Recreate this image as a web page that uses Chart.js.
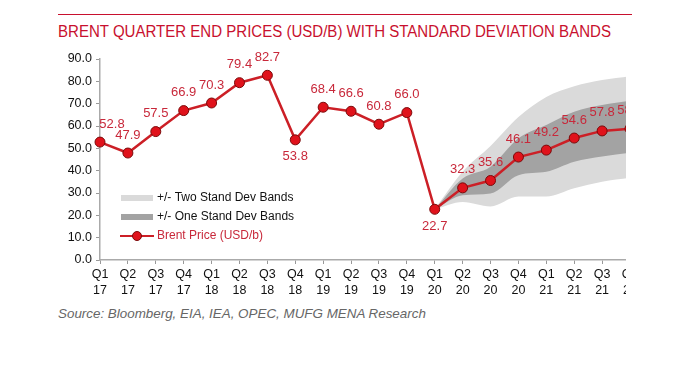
<!DOCTYPE html>
<html>
<head>
<meta charset="utf-8">
<script src="https://cdn.jsdelivr.net/npm/chart.js@4.4.1/dist/chart.umd.min.js"></script>
<style>
  html, body { margin: 0; padding: 0; background: #fff; }
  body { width: 692px; height: 366px; position: relative; overflow: hidden; font-family: "Liberation Sans", Arial, sans-serif; }
  #rule { position: absolute; left: 58px; top: 14px; width: 574px; height: 1px; background: #c8102e; }
  #title { position: absolute; left: 58px; top: 23px; font-size: 16px; color: #c8102e; white-space: nowrap; transform-origin: left top; transform: scaleX(0.94); }
  #wrap { position: absolute; left: 0; top: 40px; width: 626px; height: 260px; overflow: hidden; }
  #src { position: absolute; left: 58px; top: 306px; font-size: 13.4px; font-style: italic; color: #666; white-space: nowrap; }
</style>
</head>
<body>
<div id="rule"></div>
<div id="title">BRENT QUARTER END PRICES (USD/B) WITH STANDARD DEVIATION BANDS</div>
<div id="wrap"><canvas id="c" width="692" height="260"></canvas></div>
<div id="src">Source: Bloomberg, EIA, IEA, OPEC, MUFG MENA Research</div>
<script>
const quarters = ['Q1','Q2','Q3','Q4','Q1','Q2','Q3','Q4','Q1','Q2','Q3','Q4','Q1','Q2','Q3','Q4','Q1','Q2','Q3','Q4'];
const years    = ['17','17','17','17','18','18','18','18','19','19','19','19','20','20','20','20','21','21','21','21'];
const brent    = [52.8, 47.9, 57.5, 66.9, 70.3, 79.4, 82.7, 53.8, 68.4, 66.6, 60.8, 66.0, 22.7, 32.3, 35.6, 46.1, 49.2, 54.6, 57.8, 58.8];
const twoSdHigh = [null,null,null,null,null,null,null,null,null,null,null,null, 22.7, 39.5, 51.0, 64.0, 73.0, 77.8, 80.6, 82.3];
const twoSdLow  = [null,null,null,null,null,null,null,null,null,null,null,null, 22.7, 26.0, 24.0, 28.4, 28.4, 32.1, 35.0, 36.8];
const oneSdHigh = [null,null,null,null,null,null,null,null,null,null,null,null, 22.7, 36.5, 41.8, 54.5, 60.5, 66.4, 69.4, 71.3];
const oneSdLow  = [null,null,null,null,null,null,null,null,null,null,null,null, 22.7, 29.0, 29.8, 38.0, 39.5, 44.0, 46.3, 48.0];
const yTicks = [0, 10, 20, 30, 40, 50, 60, 70, 80, 90];

const RED = '#cc1f26';
const LABEL_RED = '#c8283a';
const LIGHT = '#dadada';
const DARK = '#a3a3a3';
const FONT = '"Liberation Sans", Arial, sans-serif';

const labels = quarters.map((q, i) => [q, years[i]]);

const valueLabels = {
    id: 'valueLabels',
    afterDatasetsDraw(chart) {
        const ctx = chart.ctx;
        const meta = chart.getDatasetMeta(4);
        ctx.save();
        ctx.font = '13px ' + FONT;
        ctx.fillStyle = LABEL_RED;
        ctx.textAlign = 'center';
        ctx.textBaseline = 'middle';
        meta.data.forEach((pt, i) => {
            const below = (i === 7 || i === 12);
            let x = pt.x;
            if (i === 0) x += 12;
            const y = below ? pt.y + 17 : pt.y - 18;
            ctx.fillText(brent[i].toFixed(1), x, y);
        });
        ctx.restore();
    }
};

const inlineLegend = {
    id: 'inlineLegend',
    afterDraw(chart) {
        const ctx = chart.ctx;
        ctx.save();
        ctx.font = '12px ' + FONT;
        ctx.textBaseline = 'middle';
        ctx.textAlign = 'left';
        ctx.fillStyle = LIGHT;
        ctx.fillRect(121, 155, 32, 6);
        ctx.fillStyle = '#111';
        ctx.fillText('+/- Two Stand Dev Bands', 157, 158);
        ctx.fillStyle = DARK;
        ctx.fillRect(121, 174, 32, 6);
        ctx.fillStyle = '#111';
        ctx.fillText('+/- One Stand Dev Bands', 157, 177);
        ctx.strokeStyle = RED;
        ctx.lineWidth = 2;
        ctx.beginPath();
        ctx.moveTo(120, 196);
        ctx.lineTo(154, 196);
        ctx.stroke();
        ctx.beginPath();
        ctx.arc(137, 196, 4.5, 0, Math.PI * 2);
        ctx.fillStyle = '#e0121b';
        ctx.fill();
        ctx.strokeStyle = '#7a0a0a';
        ctx.lineWidth = 1;
        ctx.stroke();
        ctx.fillStyle = LABEL_RED;
        ctx.fillText('Brent Price (USD/b)', 157, 196);
        ctx.restore();
    }
};

// higher order = drawn further back
const band = (data, fill, color, order) => ({
    data, fill, order, backgroundColor: color, borderWidth: 0, borderColor: 'transparent',
    pointRadius: 0, cubicInterpolationMode: 'monotone', spanGaps: false
});

new Chart(document.getElementById('c'), {
    type: 'line',
    data: {
        labels,
        datasets: [
            band(twoSdHigh, '+1', LIGHT, 4),
            band(twoSdLow, false, LIGHT, 3),
            band(oneSdHigh, '+1', DARK, 2),
            band(oneSdLow, false, DARK, 1),
            {
                data: brent, fill: false, order: 0, borderColor: RED, borderWidth: 2.5,
                pointRadius: 5, pointBackgroundColor: '#e0121b', pointBorderColor: '#7a0a0a',
                pointBorderWidth: 1, tension: 0
            }
        ]
    },
    options: {
        responsive: false,
        animation: false,
        events: [],
        layout: { padding: { top: 19, right: 62, left: 0, bottom: 0 } },
        plugins: { legend: { display: false }, tooltip: { enabled: false } },
        scales: {
            x: {
                offset: false,
                afterFit(s) { s.height = 40; },
                grid: { drawOnChartArea: false, color: '#999', tickLength: 4 },
                border: { color: '#aaa', width: 1.5 },
                ticks: { color: '#111', font: { size: 12.5, family: FONT, lineHeight: 1.25 }, padding: 3, maxRotation: 0, autoSkip: false }
            },
            y: {
                min: 0, max: 90,
                afterFit(s) { s.width = 100; },
                afterBuildTicks(s) { s.ticks = yTicks.map(v => ({ value: v })); },
                grid: { drawOnChartArea: false, color: '#999', tickLength: 4 },
                border: { color: '#aaa', width: 1.5 },
                ticks: { color: '#111', font: { size: 12.5, family: FONT }, padding: 4, callback: v => v.toFixed(1) }
            }
        }
    },
    plugins: [valueLabels, inlineLegend]
});
</script>
</body>
</html>
